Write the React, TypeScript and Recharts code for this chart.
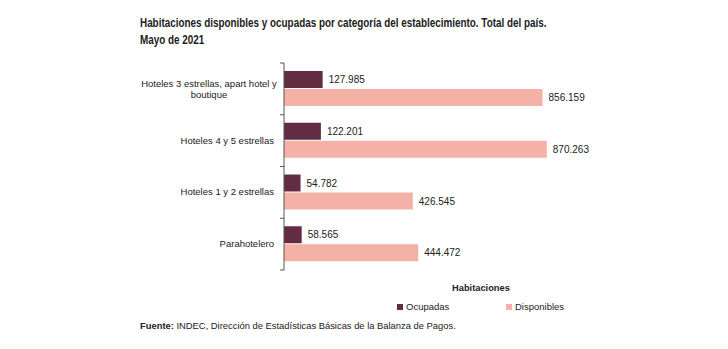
import React from 'react';
import { BarChart, Bar, XAxis, YAxis, LabelList } from 'recharts';

const categories = [
  'Hoteles 3 estrellas, apart hotel y boutique',
  'Hoteles 4 y 5 estrellas',
  'Hoteles 1 y 2 estrellas',
  'Parahotelero',
];
const ocupadas = [127985, 122201, 54782, 58565];
const disponibles = [856159, 870263, 426545, 444472];

const COLOR_OCUPADAS = '#622c43';
const COLOR_DISPONIBLES = '#f4b1a6';
const FONT = '"Liberation Sans", Arial, sans-serif';

const data = categories.map((name, i) => ({
  name,
  ocupadas: ocupadas[i],
  disponibles: disponibles[i],
}));

const fmt = (v: number) => v.toLocaleString('de-DE');

const TOP = 63;
const BOTTOM = 79;
const HEIGHT = 349;
const BAND = (HEIGHT - TOP - BOTTOM) / categories.length;

// y-axis label, wraps long names into two centered lines, plus boundary tick marks
const CategoryTick = (props: any) => {
  const { x, y, payload, index } = props;
  const text: string = payload.value;
  const tickX = x + 8;
  const marks = (
    <g stroke="#555" strokeWidth={1}>
      <line x1={tickX - 4} x2={tickX} y1={y - BAND / 2} y2={y - BAND / 2} />
      {index === categories.length - 1 && (
        <line x1={tickX - 4} x2={tickX} y1={y + BAND / 2} y2={y + BAND / 2} />
      )}
    </g>
  );
  if (text.length > 30) {
    const cut = text.lastIndexOf(' ', 34);
    const lines = [text.slice(0, cut), text.slice(cut + 1)];
    return (
      <g>
        {marks}
        <text x={x - 67} y={y} textAnchor="middle" fontSize={9.5} fill="#222" fontFamily={FONT}>
          <tspan x={x - 67} dy={-2}>{lines[0]}</tspan>
          <tspan x={x - 67} dy={11}>{lines[1]}</tspan>
        </text>
      </g>
    );
  }
  return (
    <g>
      {marks}
      <text x={x - 2} y={y + 3} textAnchor="end" fontSize={9.5} fill="#222" fontFamily={FONT}>
        {text}
      </text>
    </g>
  );
};

const App: React.FC = () => {
  return (
    <div style={{ position: 'absolute', left: 0, top: 0, width: 728, height: 349, background: '#fff', fontFamily: FONT }}>
      <div
        style={{
          position: 'absolute',
          left: 140,
          top: 15,
          fontWeight: 700,
          fontSize: 12.5,
          lineHeight: '17px',
          color: '#222',
          whiteSpace: 'nowrap',
          transform: 'scaleX(0.79)',
          transformOrigin: 'left top',
        }}
      >
        Habitaciones disponibles y ocupadas por categoría del establecimiento. Total del país.
        <br />
        Mayo de 2021
      </div>
      <BarChart
        width={728}
        height={HEIGHT}
        data={data}
        layout="vertical"
        margin={{ top: TOP, right: 142, bottom: BOTTOM, left: 0 }}
        barCategoryGap={8}
        barGap={1}
      >
        <XAxis type="number" domain={[0, 1000000]} hide />
        <YAxis
          type="category"
          dataKey="name"
          width={284}
          axisLine={{ stroke: '#555' }}
          tickLine={false}
          tick={<CategoryTick />}
          interval={0}
        />
        <Bar dataKey="ocupadas" fill={COLOR_OCUPADAS} isAnimationActive={false}>
          <LabelList dataKey="ocupadas" position="right" offset={6} formatter={(v: any) => fmt(Number(v))} style={{ fontSize: 10, fill: '#222', fontFamily: FONT }} />
        </Bar>
        <Bar dataKey="disponibles" fill={COLOR_DISPONIBLES} isAnimationActive={false}>
          <LabelList dataKey="disponibles" position="right" offset={6} formatter={(v: any) => fmt(Number(v))} style={{ fontSize: 10, fill: '#222', fontFamily: FONT }} />
        </Bar>
      </BarChart>
      <div style={{ position: 'absolute', left: 452, top: 283, fontSize: 9.3, fontWeight: 700, color: '#222' }}>Habitaciones</div>
      <div style={{ position: 'absolute', left: 397, top: 301, fontSize: 9.5, color: '#222', display: 'flex', alignItems: 'center' }}>
        <span style={{ display: 'inline-block', width: 6, height: 6, background: COLOR_OCUPADAS, marginRight: 3 }} />
        Ocupadas
      </div>
      <div style={{ position: 'absolute', left: 506, top: 301, fontSize: 9.5, color: '#222', display: 'flex', alignItems: 'center' }}>
        <span style={{ display: 'inline-block', width: 6, height: 6, background: COLOR_DISPONIBLES, marginRight: 3 }} />
        Disponibles
      </div>
      <div style={{ position: 'absolute', left: 140, top: 320, fontSize: 9.4, color: '#222' }}>
        <b>Fuente:</b> INDEC, Dirección de Estadísticas Básicas de la Balanza de Pagos.
      </div>
    </div>
  );
};

export default App;
